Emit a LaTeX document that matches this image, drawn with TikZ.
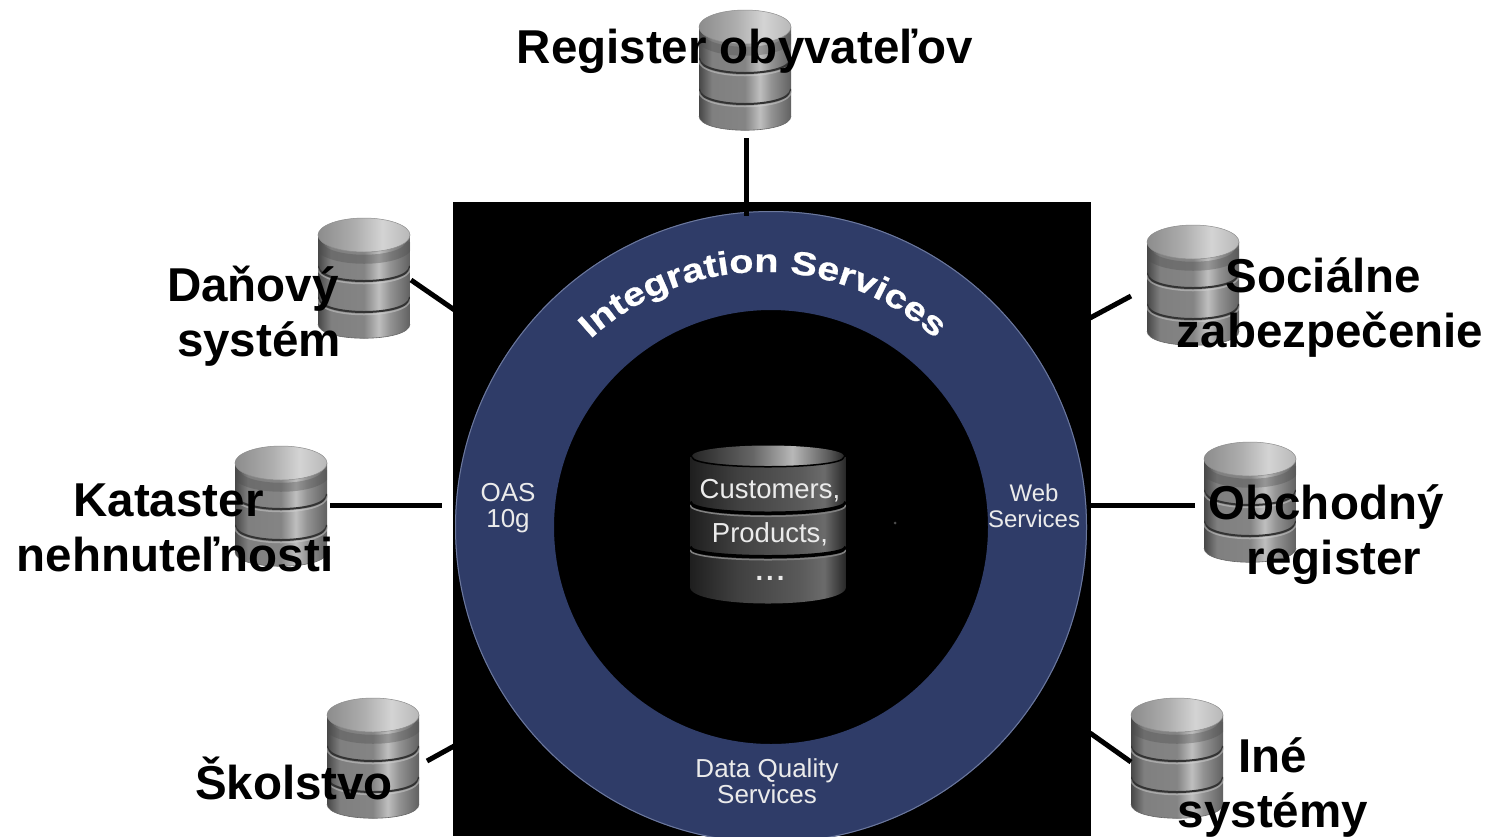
\documentclass[tikz,border=0pt]{standalone}
\usepackage{fontspec}
\setmainfont{Liberation Sans}
\newfontfamily\ringfont[FakeStretch=1.2,FakeBold=0.6]{Liberation Sans Bold}
\usetikzlibrary{decorations.text}
\pgfdeclarehorizontalshading{cylbody}{100bp}{color(0bp)=(black!72);color(25bp)=(black!72);color(32bp)=(black!50);color(50bp)=(black!48);color(58bp)=(black!25);color(64bp)=(black!42);color(75bp)=(black!62);color(100bp)=(black!62)}
\pgfdeclarehorizontalshading{cyltop}{100bp}{color(0bp)=(black!50);color(25bp)=(black!45);color(45bp)=(black!32);color(60bp)=(black!17);color(75bp)=(black!28);color(100bp)=(black!28)}
\pgfdeclarehorizontalshading{corebody}{100bp}{color(0bp)=(black!88);color(25bp)=(black!88);color(40bp)=(black!75);color(60bp)=(black!65);color(68bp)=(black!58);color(75bp)=(black!85);color(100bp)=(black!85)}
\pgfdeclarehorizontalshading{coretop}{100bp}{color(0bp)=(black!85);color(25bp)=(black!85);color(45bp)=(black!60);color(58bp)=(black!28);color(70bp)=(black!65);color(75bp)=(black!85);color(100bp)=(black!85)}
\definecolor{ringblue}{HTML}{2F3C68}
\definecolor{ringedge}{HTML}{6C789C}
\definecolor{linkblack}{HTML}{000000}
\tikzset{
  x=1pt,y=1pt,
  link/.style={draw=linkblack,line width=5pt},
  biglabel/.style={font=\fontsize{47.5}{55}\selectfont\bfseries,text=black,align=center,inner sep=0pt},
  ringlabel/.style={font=\fontsize{26}{26}\selectfont,text=white!92!black,align=center,inner sep=0pt},
  weblabel/.style={font=\fontsize{24}{26}\selectfont,text=white!92!black,align=center,inner sep=0pt},
  corelabel/.style={font=\fontsize{27.5}{28}\selectfont,text=white!92!black,inner sep=0pt},
  pics/dbcyl/.style={code={
    \begin{scope}
    \clip (-46,-17) -- (-46,-106) .. controls (-46,-125) and (46,-125) .. (46,-106) -- (46,-17) -- cycle;
    \shade[shading=cylbody] (-46,-17) rectangle (46,-125);
    \draw[black!70,line width=9pt,opacity=.35] (-46,-24) .. controls (-46,-47) and (46,-47) .. (46,-24);
    \draw[black!80,line width=2pt] (-46,-48) .. controls (-46,-68) and (46,-68) .. (46,-48);
    \draw[white!85!black,line width=1.5pt,opacity=.45] (-46,-50.5) .. controls (-46,-70.5) and (46,-70.5) .. (46,-50.5);
    \draw[black!80,line width=2pt] (-46,-79) .. controls (-46,-99) and (46,-99) .. (46,-79);
    \draw[white!85!black,line width=1.5pt,opacity=.45] (-46,-81.5) .. controls (-46,-101.5) and (46,-101.5) .. (46,-81.5);
    \end{scope}
    \draw[black!60,line width=0.6pt] (-46,-106) .. controls (-46,-125) and (46,-125) .. (46,-106);
    \shade[shading=cyltop,draw=black!45,line width=.5pt] (0,-17) ellipse [x radius=46,y radius=17];
  }}
}
\begin{document}
\begin{tikzpicture}
\useasboundingbox (0,0) rectangle (1495,-836);
\fill[white] (0,0) rectangle (1495,-836);
% dark panel and ring
\fill[black] (453,-202) rectangle (1091,-836);
\begin{scope}
  \clip (453,-202) rectangle (1091,-836);
  \fill[ringblue,even odd rule] (771,-527) circle [radius=316] (771,-527) circle [radius=217];
  \draw[ringedge,line width=1pt] (771,-527) circle [radius=315.5];
  \node[circle,inner sep=0pt,minimum size=3pt,fill=black!70] (speck) at (895,-523) {};
\end{scope}
% ring text
\path[decorate,decoration={text along path,text align={center},
  text={|\ringfont\fontsize{33}{33}\selectfont\color{white}|Integration Services}}]
  (763,-527) ++(137:255) arc [start angle=137,end angle=43,radius=255];
\node[ringlabel] (oas) at (508,-508) {OAS\\10g};
\node[weblabel] (web) at (1034,-506) {Web\\Services};
\node[ringlabel] (dq) at (767,-781) {Data Quality\\Services};
% central database
\begin{scope}
\clip (690,-457) -- (690,-587) .. controls (690,-609) and (846,-609) .. (846,-587) -- (846,-457) -- cycle;
\shade[shading=corebody] (690,-445) rectangle (846,-605);
\draw[black,line width=3.5pt] (690,-502) .. controls (690,-517) and (846,-517) .. (846,-502);
\draw[black!50,line width=1.5pt] (690,-505) .. controls (690,-520) and (846,-520) .. (846,-505);
\draw[black,line width=3.5pt] (690,-547) .. controls (690,-560) and (846,-560) .. (846,-547);
\draw[black!50,line width=1.5pt] (690,-550) .. controls (690,-563) and (846,-563) .. (846,-550);
\end{scope}
\shade[shading=coretop] (768,-456) ellipse [x radius=76,y radius=10.5];
\draw[black,line width=1.5pt] (692,-457) .. controls (692,-470) and (844,-470) .. (844,-457);
\node[corelabel] (cust) at (770,-491) {Customers,};
\node[corelabel] (prod) at (770,-534) {Products,};
\node[corelabel] (dots) at (770,-578) {\textbf{.\kern3pt.\kern3pt.}};
% satellite databases
\pic at (745,-10) {dbcyl};
\pic at (364,-218) {dbcyl};
\pic at (1193,-225) {dbcyl};
\pic at (281,-446) {dbcyl};
\pic at (1250,-442) {dbcyl};
\pic at (373,-698) {dbcyl};
\pic at (1177,-698) {dbcyl};
% connector ends
\coordinate (regA) at (746,-138);   \coordinate (regB) at (746,-216);
\coordinate (danA) at (411,-280);   \coordinate (danB) at (456,-311);
\coordinate (socA) at (1131,-296);  \coordinate (socB) at (1090,-318);
\coordinate (katA) at (330,-505);   \coordinate (katB) at (442,-505);
\coordinate (obcA) at (1195,-505);  \coordinate (obcB) at (1090,-505);
\coordinate (skoA) at (427,-761);   \coordinate (skoB) at (456,-745);
\coordinate (ineA) at (1131,-762);  \coordinate (ineB) at (1090,-733);
\draw[link] (regA) -- (regB);
\draw[link] (danA) -- (danB);
\draw[link] (socA) -- (socB);
\draw[link] (katA) -- (katB);
\draw[link] (obcA) -- (obcB);
\draw[link] (skoA) -- (skoB);
\draw[link] (ineA) -- (ineB);
% labels
\node[biglabel] (reg) at (745,-51) {Register obyvateľov};
\node[biglabel] (dan) at (259,-316) {Daňový\kern12pt\\systém};
\node[biglabel] (soc) at (1330,-308) {Sociálne\kern13pt\\zabezpečenie};
\node[biglabel] (kat) at (175,-528) {Kataster\kern13pt\\nehnuteľnosti};
\node[biglabel] (obc) at (1334,-535) {Obchodný\kern16pt\\register};
\node[biglabel] (sko) at (294,-778) {Školstvo};
\node[biglabel] (ine) at (1273,-787) {Iné\\systémy};
\end{tikzpicture}
\end{document}
